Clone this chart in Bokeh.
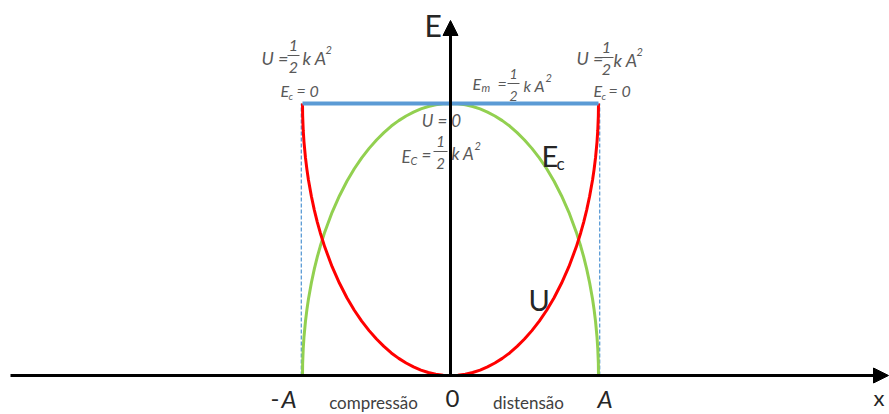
from bokeh.plotting import figure
from bokeh.models import Range1d, Arrow, NormalHead
from bokeh.core.properties import value
from bokeh.embed import file_html
from bokeh.resources import INLINE

# Position along the spring, in units of the amplitude A
x_pos = [-1.0, -0.999, -0.995, -0.99, -0.98, -0.97, -0.96, -0.94, -0.92, -0.9,
         -0.88, -0.85, -0.8, -0.75, -0.7, -0.65, -0.6, -0.55, -0.5, -0.45, -0.4,
         -0.35, -0.3, -0.25, -0.2, -0.15, -0.1, -0.05, 0.0,
         0.05, 0.1, 0.15, 0.2, 0.25, 0.3, 0.35, 0.4, 0.45, 0.5, 0.55, 0.6, 0.65,
         0.7, 0.75, 0.8, 0.85, 0.88, 0.9, 0.92, 0.94, 0.96, 0.97, 0.98, 0.99,
         0.995, 0.999, 1.0]
# Kinetic energy E_c, in units of (1/2) k A^2
kinetic = [0.0, 0.045, 0.10, 0.141, 0.199, 0.243, 0.280, 0.341, 0.392, 0.436,
           0.475, 0.527, 0.600, 0.661, 0.714, 0.760, 0.800, 0.835, 0.866, 0.893,
           0.917, 0.937, 0.954, 0.968, 0.980, 0.989, 0.995, 0.999, 1.0,
           0.999, 0.995, 0.989, 0.980, 0.968, 0.954, 0.937, 0.917, 0.893, 0.866,
           0.835, 0.800, 0.760, 0.714, 0.661, 0.600, 0.527, 0.475, 0.436, 0.392,
           0.341, 0.280, 0.243, 0.199, 0.141, 0.10, 0.045, 0.0]
# Potential energy U, in units of (1/2) k A^2
potential = [1.0, 0.955, 0.90, 0.859, 0.801, 0.757, 0.720, 0.659, 0.608, 0.564,
             0.525, 0.473, 0.400, 0.339, 0.286, 0.240, 0.200, 0.165, 0.134, 0.107,
             0.083, 0.063, 0.046, 0.032, 0.020, 0.011, 0.005, 0.001, 0.0,
             0.001, 0.005, 0.011, 0.020, 0.032, 0.046, 0.063, 0.083, 0.107, 0.134,
             0.165, 0.200, 0.240, 0.286, 0.339, 0.400, 0.473, 0.525, 0.564, 0.608,
             0.659, 0.720, 0.757, 0.801, 0.859, 0.90, 0.955, 1.0]
# Mechanical energy E_m (constant) between the turning points
mech_x = [-1.0, 1.0]
mech_e = [1.0, 1.0]
amplitude = [-1.0, 1.0]

W, H = 889, 414
X0, Y0, SX, SY = 450.0, 375.0, 148.0, 272.0   # origin and unit sizes in pixels


def dx(px):
    return (px - X0) / SX


def dy(py):
    return (Y0 - py) / SY


p = figure(width=W, height=H, output_backend="svg", toolbar_location=None,
           x_range=Range1d(dx(0), dx(W)), y_range=Range1d(dy(H), dy(0)),
           min_border=0, background_fill_color="white", border_fill_color="white")
p.axis.visible = False
p.grid.visible = False
p.outline_line_color = None

BLUE = "#5B9BD5"
GREEN = "#92D050"
RED = "#FF0000"
FONT = value("Lato")

# dashed verticals at the turning points
for a in amplitude:
    p.line([a * 1.008, a * 1.008], [0, 1], line_color=BLUE, line_width=1.3,
           line_dash="4 2")

p.line(x_pos, kinetic, line_color=GREEN, line_width=3, line_join="round")
p.line(x_pos, potential, line_color=RED, line_width=3, line_join="round")
p.line(mech_x, mech_e, line_color=BLUE, line_width=4)

# axes with arrow heads
p.add_layout(Arrow(end=NormalHead(size=15, fill_color="black", line_color="black"),
                   x_start=dx(10), y_start=0, x_end=dx(888), y_end=0,
                   line_color="black", line_width=3))
p.add_layout(Arrow(end=NormalHead(size=15, fill_color="black", line_color="black"),
                   x_start=0, y_start=0, x_end=0, y_end=dy(20),
                   line_color="black", line_width=3))


def txt(s, px, py, size, color="#595959", style="italic", align="left"):
    p.text(x=[dx(px)], y=[dy(py)], text=[s], text_font=FONT,
           text_font_size=f"{size}px", text_font_style=style, text_color=color,
           text_align=align, text_baseline="middle")


def half_kA2(cx, ymid, fs, bar_w, kx, supx):
    """Draws the stacked fraction 1/2 followed by k A^2."""
    fsd = fs - 2
    txt("1", cx, ymid - 12, fsd, align="center")
    p.line([dx(cx - bar_w / 2), dx(cx + bar_w / 2)], [dy(ymid - 2), dy(ymid - 2)],
           line_color="#595959", line_width=1)
    txt("2", cx, ymid + 10, fsd, align="center")
    txt("k A", kx, ymid, fs)
    txt("2", supx, ymid - 8, 11)


# left turning point
txt("U =", 261, 57, 18)
half_kA2(293, 57, 18, 12, 302, 325)
txt("E", 280, 90, 16)
txt("c", 288, 95, 10)
txt("= 0", 296, 90, 16)

# right turning point
txt("U =", 576, 57, 18)
half_kA2(606, 59, 18, 14, 613, 636)
txt("E", 593, 90, 16)
txt("c", 601, 95, 10)
txt("= 0", 608, 90, 16)

# mechanical energy
txt("E", 472, 83, 16)
txt("m", 481, 87, 11)
txt("=", 497, 83, 16)
half_kA2(513, 85, 16, 12, 523, 545)

# equilibrium position
txt("U = 0", 441, 120, 17, align="center")
txt("E", 401, 156, 17)
txt("C", 410, 160, 11)
txt("=", 421, 154, 17)
half_kA2(440, 153, 17, 14, 451, 474)

# curve and axis labels
DARK = "#262626"
txt("E", 424, 24, 30, color=DARK, style="normal")
txt("x", 873, 397, 22, color=DARK, style="normal")
txt("E", 541, 155, 29, color=DARK, style="normal")
txt("c", 556, 163, 17, color=DARK, style="normal")
txt("U", 528, 299, 29, color=DARK, style="normal")

# labels along the x axis
txt("-", 270, 398, 24, color=DARK, style="normal")
txt("A", 281, 398, 24, color=DARK)
txt("compressão", 373, 402, 17, color="#404040", style="normal", align="center")
txt("0", 452, 398, 24, color=DARK, style="normal", align="center")
txt("distensão", 528, 402, 17, color="#404040", style="normal", align="center")
txt("A", 597, 398, 24, color=DARK)

open("out.html", "w").write(file_html(p, INLINE))
